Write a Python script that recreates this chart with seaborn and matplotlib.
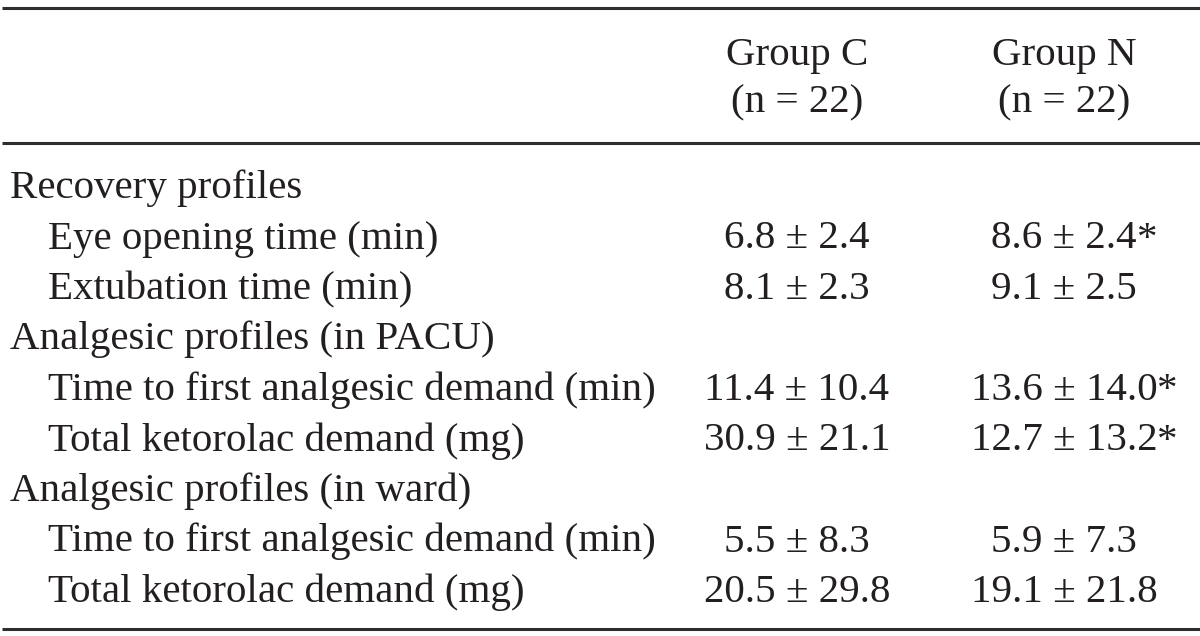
import matplotlib
matplotlib.use("Agg")
import matplotlib.pyplot as plt
import seaborn as sns

# table content
groups = ["Group C", "Group N"]
group_n = [22, 22]
row_labels = [
    "Recovery profiles",
    "Eye opening time (min)",
    "Extubation time (min)",
    "Analgesic profiles (in PACU)",
    "Time to first analgesic demand (min)",
    "Total ketorolac demand (mg)",
    "Analgesic profiles (in ward)",
    "Time to first analgesic demand (min)",
    "Total ketorolac demand (mg)",
]
is_section = [True, False, False, True, False, False, True, False, False]
c_mean = [None, 6.8, 8.1, None, 11.4, 30.9, None, 5.5, 20.5]
c_sd = [None, 2.4, 2.3, None, 10.4, 21.1, None, 8.3, 29.8]
n_mean = [None, 8.6, 9.1, None, 13.6, 12.7, None, 5.9, 19.1]
n_sd = [None, 2.4, 2.5, None, 14.0, 13.2, None, 7.3, 21.8]
n_star = [False, True, False, False, True, True, False, False, False]

sns.set_theme(style="white")
plt.rcParams["font.family"] = ["Liberation Serif", "DejaVu Serif"]

ink = "#231f20"
fs = 29.5

fig = plt.figure(figsize=(12, 6.36), dpi=100)
ax = fig.add_axes([0, 0, 1, 1])
ax.set_xlim(0, 1200)
ax.set_ylim(636, 0)
ax.axis("off")

# rules
ax.hlines([8, 143, 629], 2, 1200, color="#2e2e2e", lw=2.2)

col_x = [797, 1064]
for x, g, n in zip(col_x, groups, group_n):
    ax.text(x, 65, g, ha="center", va="baseline", fontsize=fs, color=ink)
    ax.text(x, 112, f"(n = {n})", ha="center", va="baseline", fontsize=fs, color=ink)

y0, dy = 198, 50.5
for i, lab in enumerate(row_labels):
    y = y0 + i * dy
    ax.text(10 if is_section[i] else 48, y, lab, ha="left", va="baseline",
            fontsize=fs, color=ink)
    if c_mean[i] is None:
        continue
    ax.text(col_x[0], y, f"{c_mean[i]:.1f} ± {c_sd[i]:.1f}", ha="center",
            va="baseline", fontsize=fs, color=ink)
    t = ax.text(col_x[1], y, f"{n_mean[i]:.1f} ± {n_sd[i]:.1f}", ha="center",
                va="baseline", fontsize=fs, color=ink)
    if n_star[i]:
        ax.annotate("*", xy=(1, 0), xycoords=t, ha="left", va="bottom",
                    fontsize=fs, color=ink)

fig.savefig("out.png", dpi=100)
